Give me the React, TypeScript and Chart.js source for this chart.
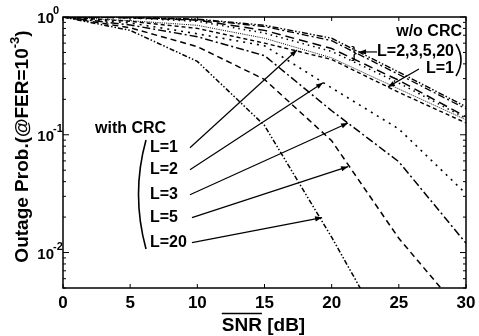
import React, { useEffect, useRef } from 'react';
import { Chart, registerables } from 'chart.js';
Chart.register(...registerables);

// SNR axis (dB)
const snr = [0, 5, 10, 15, 20, 25, 30];

// without CRC
const woCrcL20 = [1, 0.99, 0.96, 0.85, 0.66, 0.34, 0.173];
const woCrcL3 = [1, 0.99, 0.952, 0.83, 0.63, 0.325, 0.166];
const woCrcL5 = [1, 0.985, 0.94, 0.77, 0.54, 0.29, 0.142];
const woCrcL2 = [1, 0.98, 0.92, 0.73, 0.51, 0.275, 0.138];
const woCrcL1 = [1, 0.92, 0.8, 0.6, 0.436, 0.229, 0.126];

// with CRC
const wCrcL1 = [1, 0.93, 0.85, 0.66, 0.45, 0.245, 0.134];
const wCrcL2 = [1, 0.89, 0.72, 0.57, 0.25, 0.112, 0.0316];
const wCrcL3 = [1, 0.855, 0.68, 0.47, 0.16, 0.059, 0.012];
const wCrcL5 = [1, 0.81, 0.56, 0.295, 0.089, 0.0132, 0.0028];
const wCrcL20 = [1, 0.77, 0.42, 0.12, 0.0135, 0.0013, null];

const xTicks = [0, 5, 10, 15, 20, 25, 30];
const xTickLabels = ['0', '5', '10', '15', '20', '25', '30'];
const yDecades = [0, -1, -2];
const yMin = 0.005;
const yMax = 1;

// arrows: [tailX(dB), tailY, tipX(dB), tipY]
const withCrcLabels = ['L=1', 'L=2', 'L=3', 'L=5', 'L=20'];
const withCrcArrows = [
  [9.45, 0.0776, 17.42, 0.525],
  [9.45, 0.0505, 19.36, 0.276],
  [9.45, 0.031, 21.22, 0.126],
  [9.6, 0.0198, 21.22, 0.0536],
  [9.6, 0.01216, 19.29, 0.0198],
];
const woL1Arrow = [26.5, 0.362, 24.19, 0.255];
const woBraceArrow = [23.38, 0.505, 22.04, 0.505];

const FONT = '"Liberation Sans", Arial, Helvetica, sans-serif';

const styles = [
  { data: woCrcL20, dash: [6, 2, 1.5, 2, 1.5, 2], w: 1.4 },
  { data: woCrcL3, dash: [7, 3, 2, 3], w: 1.3 },
  { data: woCrcL5, dash: [9, 5], w: 1.5 },
  { data: woCrcL2, dash: [1.5, 4], w: 1.5 },
  { data: woCrcL1, dash: [4, 3], w: 1.4 },
  { data: wCrcL1, dash: [1, 1.2], w: 1 },
  { data: wCrcL2, dash: [2, 5], w: 1.6 },
  { data: wCrcL3, dash: [8, 3, 2, 3], w: 1.5 },
  { data: wCrcL5, dash: [6, 4], w: 1.5 },
  { data: wCrcL20, dash: [5, 2, 1.5, 2, 1.5, 2], w: 1.5 },
];

function arrow(ctx: CanvasRenderingContext2D, x1: number, y1: number, x2: number, y2: number) {
  ctx.beginPath();
  ctx.moveTo(x1, y1);
  ctx.lineTo(x2, y2);
  ctx.stroke();
  const a = Math.atan2(y2 - y1, x2 - x1);
  const L = 7, W = 2.6;
  ctx.beginPath();
  ctx.moveTo(x2, y2);
  ctx.lineTo(x2 - L * Math.cos(a) + W * Math.sin(a), y2 - L * Math.sin(a) - W * Math.cos(a));
  ctx.lineTo(x2 - L * Math.cos(a) - W * Math.sin(a), y2 - L * Math.sin(a) + W * Math.cos(a));
  ctx.closePath();
  ctx.fill();
}

const overlay = {
  id: 'overlay',
  afterDraw(chart: any) {
    const { ctx, chartArea: a, scales } = chart;
    const xs = scales.x, ys = scales.y;
    const X = (v: number) => xs.getPixelForValue(v);
    const Y = (v: number) => ys.getPixelForValue(v);
    ctx.save();
    ctx.strokeStyle = '#000';
    ctx.fillStyle = '#000';
    ctx.setLineDash([]);
    // frame
    ctx.lineWidth = 1.5;
    ctx.strokeRect(a.left, a.top, a.right - a.left, a.bottom - a.top);
    // x ticks
    ctx.lineWidth = 1;
    ctx.beginPath();
    for (const t of xTicks) {
      const px = X(t);
      ctx.moveTo(px, a.bottom); ctx.lineTo(px, a.bottom - 4);
      ctx.moveTo(px, a.top); ctx.lineTo(px, a.top + 4);
    }
    // y ticks
    for (let d = -3; d <= 0; d++) {
      for (let m = 1; m <= 9; m++) {
        const v = m * Math.pow(10, d);
        if (v < yMin - 1e-9 || v > yMax + 1e-9) continue;
        const py = Y(v);
        const len = m === 1 ? 6 : 3;
        ctx.moveTo(a.left, py); ctx.lineTo(a.left + len, py);
        ctx.moveTo(a.right, py); ctx.lineTo(a.right - len, py);
      }
    }
    ctx.stroke();

    // x tick labels
    ctx.font = `bold 17px ${FONT}`;
    ctx.textAlign = 'center';
    ctx.textBaseline = 'alphabetic';
    xTicks.forEach((t, i) => ctx.fillText(xTickLabels[i], X(t), a.bottom + 20));

    // y tick labels 10^d
    yDecades.forEach((d) => {
      const py = Y(Math.pow(10, d));
      ctx.font = `bold 15px ${FONT}`;
      ctx.textAlign = 'right';
      ctx.textBaseline = 'middle';
      ctx.fillText('10', a.left - 9, py + 2);
      ctx.font = `bold 11px ${FONT}`;
      ctx.textAlign = 'left';
      ctx.fillText(String(d), a.left - 10, py - 6);
    });

    // x title with overline over SNR
    ctx.font = `bold 19px ${FONT}`;
    ctx.textAlign = 'left';
    ctx.textBaseline = 'alphabetic';
    const title = 'SNR [dB]';
    const tw = ctx.measureText(title).width;
    const snrW = ctx.measureText('SNR').width;
    const tx = (a.left + a.right) / 2 - tw / 2 - 1;
    const tby = 331;
    ctx.fillText(title, tx, tby);
    ctx.lineWidth = 1.3;
    ctx.beginPath();
    ctx.moveTo(tx, tby - 17.5); ctx.lineTo(tx + snrW, tby - 17.5);
    ctx.stroke();

    // y title rotated
    ctx.save();
    ctx.translate(28, (a.top + a.bottom) / 2 - 6);
    ctx.rotate(-Math.PI / 2);
    const main = 'Outage Prob.(@FER=10';
    ctx.font = `bold 19px ${FONT}`;
    const mw = ctx.measureText(main).width;
    ctx.font = `bold 13px ${FONT}`;
    const sw = ctx.measureText('-3').width;
    ctx.font = `bold 19px ${FONT}`;
    const pw = ctx.measureText(')').width;
    const total = mw + sw + pw;
    let cx = -total / 2;
    ctx.textAlign = 'left';
    ctx.textBaseline = 'alphabetic';
    ctx.fillText(main, cx, 0);
    cx += mw;
    ctx.font = `bold 13px ${FONT}`;
    ctx.fillText('-3', cx, -9);
    cx += sw;
    ctx.font = `bold 19px ${FONT}`;
    ctx.fillText(')', cx, 0);
    ctx.restore();

    // annotations: with CRC
    ctx.font = `bold 16px ${FONT}`;
    ctx.textAlign = 'left';
    ctx.textBaseline = 'middle';
    ctx.fillText('with CRC', 95, 129);
    ctx.lineWidth = 1.2;
    withCrcArrows.forEach((ar, i) => {
      const x1 = X(ar[0]), y1 = Y(ar[1]);
      ctx.fillText(withCrcLabels[i], 150, y1);
      arrow(ctx, x1, y1, X(ar[2]), Y(ar[3]));
    });
    ctx.lineWidth = 1.6;
    ctx.beginPath();
    ctx.moveTo(146, 140);
    ctx.quadraticCurveTo(131, 194, 146, 249);
    ctx.stroke();

    // annotations: w/o CRC
    ctx.textAlign = 'right';
    ctx.fillText('w/o CRC', 462, 32);
    ctx.fillText('L=2,3,5,20', 454, 52);
    ctx.fillText('L=1', 454, 69);
    ctx.lineWidth = 1.6;
    ctx.beginPath();
    ctx.moveTo(456, 44);
    ctx.quadraticCurveTo(466, 60, 456, 76);
    ctx.stroke();
    ctx.lineWidth = 1.2;
    arrow(ctx, X(woBraceArrow[0]), Y(woBraceArrow[1]), X(woBraceArrow[2]), Y(woBraceArrow[3]));
    arrow(ctx, X(woL1Arrow[0]), Y(woL1Arrow[1]), X(woL1Arrow[2]), Y(woL1Arrow[3]));
    // small brace
    ctx.font = `17px ${FONT}`;
    ctx.textAlign = 'center';
    ctx.fillText('}', X(woBraceArrow[2]) - 5, Y(woBraceArrow[3]) + 1);
    ctx.restore();
  },
};

export default function App() {
  const ref = useRef<HTMLCanvasElement>(null);
  useEffect(() => {
    if (!ref.current) return;
    const datasets = styles.map((s) => ({
      data: snr
        .map((x, i) => ({ x, y: s.data[i] }))
        .filter((p) => p.y !== null && p.y !== undefined),
      borderColor: '#000',
      backgroundColor: '#000',
      borderWidth: s.w,
      borderDash: s.dash,
      pointRadius: 0,
      fill: false,
      tension: 0,
    }));
    const chart = new Chart(ref.current, {
      type: 'line',
      data: { datasets } as any,
      options: {
        animation: false,
        responsive: false,
        devicePixelRatio: 1,
        layout: { padding: { left: 63, top: 17, right: 13, bottom: 48 } },
        plugins: { legend: { display: false }, tooltip: { enabled: false } },
        scales: {
          x: { type: 'linear', min: 0, max: 30, display: false },
          y: { type: 'logarithmic', min: yMin, max: yMax, display: false },
        },
      } as any,
      plugins: [overlay],
    });
    return () => chart.destroy();
  }, []);
  return (
    <div style={{ position: 'fixed', left: 0, top: 0, width: 479, height: 336, background: '#fff' }}>
      <canvas ref={ref} width={479} height={336} style={{ display: 'block', width: 479, height: 336 }} />
    </div>
  );
}
